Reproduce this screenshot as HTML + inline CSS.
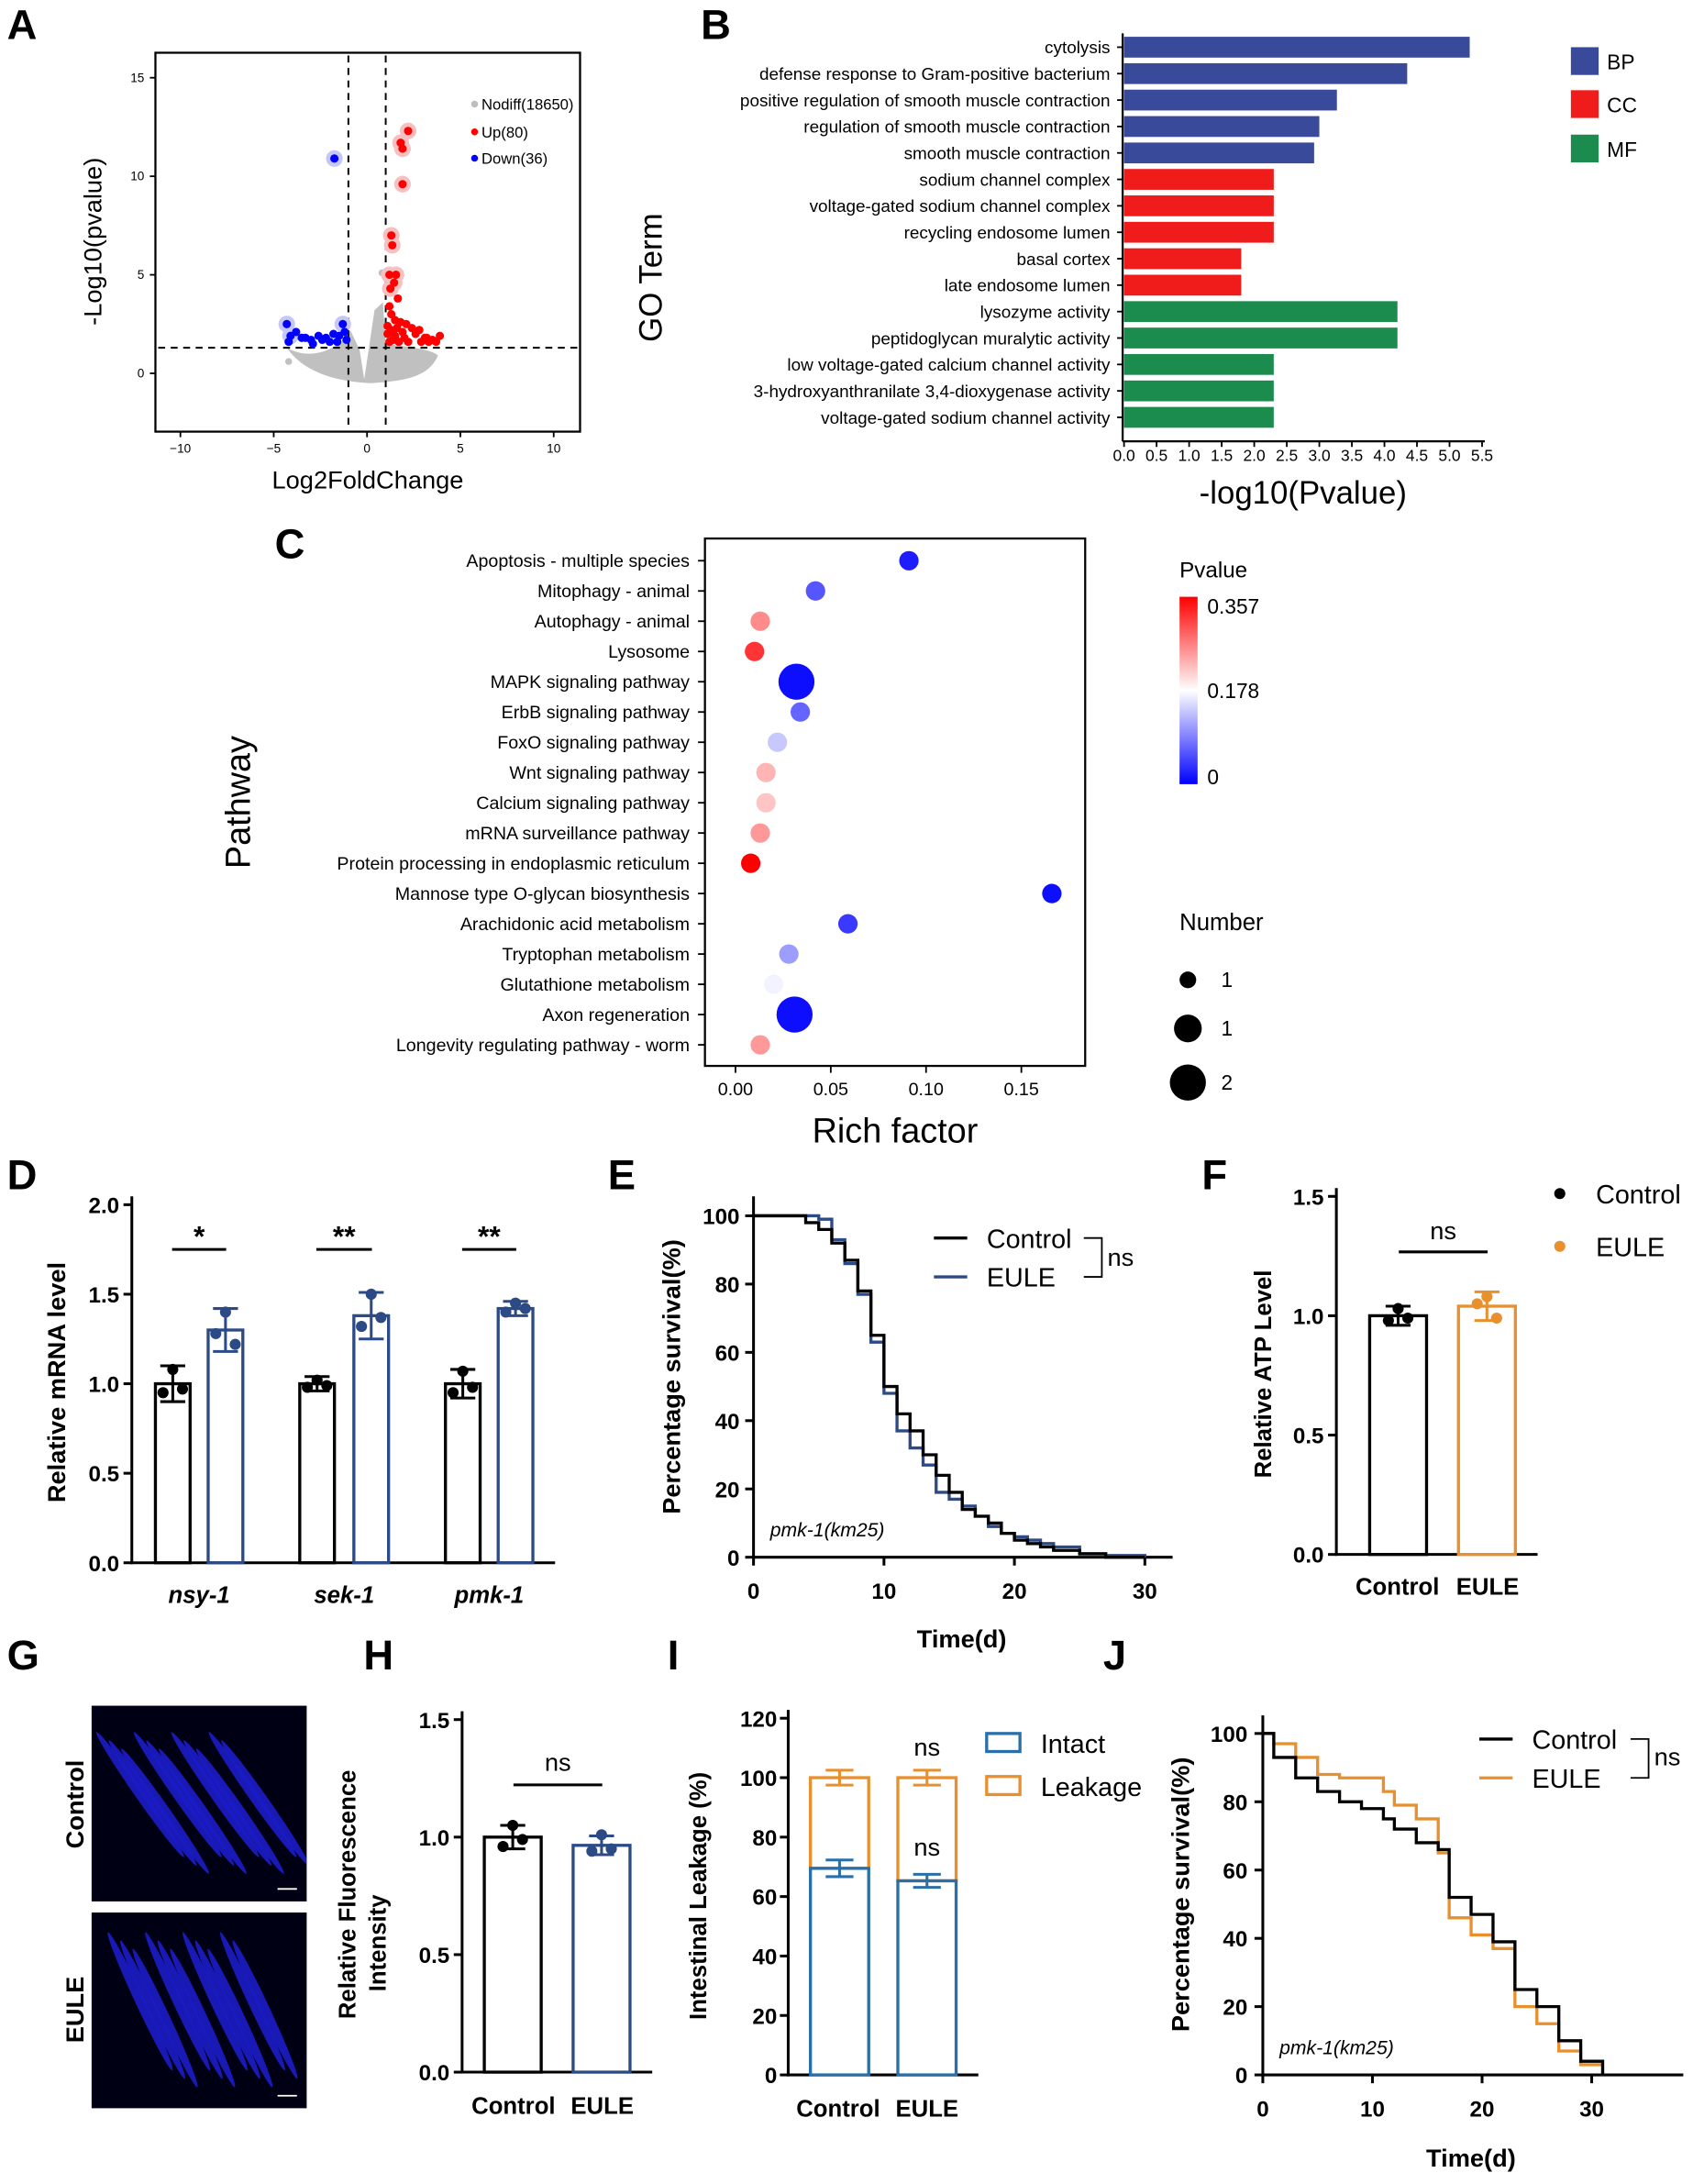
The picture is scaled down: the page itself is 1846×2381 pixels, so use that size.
<!DOCTYPE html>
<html><head><meta charset="utf-8"><style>
html,body{margin:0;padding:0;background:#fff}
svg{display:block}
text{font-family:"Liberation Sans",Arial,sans-serif;fill:#000}
</style></head><body>
<svg id="fig" xmlns="http://www.w3.org/2000/svg" width="1846" height="2381" viewBox="0 0 1220 1573.6" preserveAspectRatio="none">
<g id="root"></g>
</svg>
<script>
// ===== Data =====
const upX=[2.2,1.8,1.9,1.9,1.3,1.35,1.2,1.55,1.45,1.25,1.65,1.2,1.3,1.5,1.1,1.3,1.6,1.9,2.1,2.4,2.8,3.1,3.5,3.9,3.7,3.3,2.6,2.0,1.4,1.2,1.7,2.2,1.5,1.1,1.8,2.9,3.2];
const upY=[12.3,11.7,11.4,9.6,7.0,6.5,5.0,5.0,4.6,4.3,3.8,3.4,3.0,2.7,2.4,2.2,2.3,2.1,2.5,2.3,2.2,1.8,1.7,1.9,1.6,1.6,2.0,1.8,1.7,1.6,1.6,1.6,1.9,2.0,2.6,1.6,1.8];
const downX=[-1.75,-4.3,-4.1,-3.8,-3.5,-3.0,-2.6,-2.2,-1.8,-1.3,-1.2,-1.5,-1.1,-4.2,-2.9,-2.0,-1.6,-3.3,-2.4];
const downY=[10.9,2.5,1.9,2.1,1.8,1.7,1.9,1.8,2.0,2.5,2.1,1.9,1.7,1.6,1.5,1.6,1.6,1.8,1.7];
const goTerms=["cytolysis","defense response to Gram-positive bacterium","positive regulation of smooth muscle contraction","regulation of smooth muscle contraction","smooth muscle contraction","sodium channel complex","voltage-gated sodium channel complex","recycling endosome lumen","basal cortex","late endosome lumen","lysozyme activity","peptidoglycan muralytic activity","low voltage-gated calcium channel activity","3-hydroxyanthranilate 3,4-dioxygenase activity","voltage-gated sodium channel activity"];
const goVals=[5.31,4.35,3.27,3.0,2.92,2.3,2.3,2.3,1.8,1.8,4.2,4.2,2.3,2.3,2.3];
const goCat=["BP","BP","BP","BP","BP","CC","CC","CC","CC","CC","MF","MF","MF","MF","MF"];
const pathways=["Apoptosis - multiple species","Mitophagy - animal","Autophagy - animal","Lysosome","MAPK signaling pathway","ErbB signaling pathway","FoxO signaling pathway","Wnt signaling pathway","Calcium signaling pathway","mRNA surveillance pathway","Protein processing in endoplasmic reticulum","Mannose type O-glycan biosynthesis","Arachidonic acid metabolism","Tryptophan metabolism","Glutathione metabolism","Axon regeneration","Longevity regulating pathway - worm"];
const richFactor=[0.091,0.042,0.013,0.010,0.032,0.034,0.022,0.016,0.016,0.013,0.008,0.166,0.059,0.028,0.020,0.031,0.013];
const pvals=[0.02,0.06,0.26,0.32,0.01,0.07,0.14,0.23,0.22,0.25,0.357,0.01,0.04,0.11,0.17,0.01,0.25];
const counts=[1,1,1,1,2,1,1,1,1,1,1,1,1,1,1,2,1];
const genes=["nsy-1","sek-1","pmk-1"];
const dCtrl=[1.0,1.0,1.0], dCtrlErr=[0.1,0.04,0.08];
const dEule=[1.3,1.38,1.42], dEuleErr=[0.12,0.13,0.04];
const dSig=["*","**","**"];
const dCtrlPts=[[1.08,0.95,0.97],[1.02,0.98,0.99],[1.07,0.95,0.98]];
const dEulePts=[[1.40,1.28,1.22],[1.50,1.32,1.37],[1.45,1.40,1.42]];
const eTime=[0,3,4,5,6,7,8,9,10,11,12,13,14,15,16,17,18,19,20,21,22,23,25,27,30];
const eCtrl=[100,100,98,96,92,87,78,65,50,42,37,30,24,19,14,12,10,7,5,4,3,2,1,0,0];
const eEule=[100,100,100,99,93,86,77,63,48,37,32,27,19,17,15,12,9,7,6,5,4,3,1,0.5,0];
const fVals=[1.0,1.04], fErr=[0.04,0.06];
const fPts=[[1.03,0.98,0.99],[1.08,1.05,0.99]];
const hVals=[1.0,0.965], hErr=[0.05,0.04];
const hPts=[[1.05,0.96,0.99],[1.01,0.94,0.95]];
const iIntact=[69.5,65.3], iIntactErr=[2.8,2.2];
const iTotal=[100,100], iTotalErr=[2.5,2.5];
const jTime=[0,1,3,5,7,9,11,12,14,16,17,19,21,23,25,27,29,31];
const jCtrl=[100,93,87,83,80,78,75,72,68,66,52,47,39,25,20,10,4,0];
const jEule=[100,97,93,88,87,87,83,79,75,65,46,41,37,20,15,7,3,0];

// ===== helpers =====
const NS="http://www.w3.org/2000/svg";
const root=document.getElementById('root');
function el(tag,attrs,parent,txt){const e=document.createElementNS(NS,tag);for(const k in attrs)e.setAttribute(k,attrs[k]);if(txt!==undefined)e.textContent=txt;(parent||root).appendChild(e);return e;}
function T(x,y,s,size,anchor,extra,name){const e=el('text',Object.assign({x:x,y:y,'font-size':size,'text-anchor':anchor||'start'},extra||{}),root,s);

return e;}
function L(x1,y1,x2,y2,w,extra){return el('line',Object.assign({x1,y1,x2,y2,stroke:'#000','stroke-width':w||1.5},extra||{}));}
function lin(d0,d1,p0,p1){return v=>p0+(v-d0)*(p1-p0)/(d1-d0);}

[["A",5,28],["B",505,28],["C",198,402],["D",5,857],["E",438,857],["F",866,857],["G",5,1203],["H",262,1203],["I",481,1203],["J",795,1203]].forEach(p=>{T(p[1],p[2],p[0],30,'start',{'font-weight':'bold'},'panel-label-'+p[0].toLowerCase());});

// ===== A =====
(function(){
const x=lin(-10,10,130,399), y=lin(0,15,269,56);
const frame=el('rect',{x:112,y:38,width:306,height:273,fill:'none',stroke:'#000','stroke-width':1.5});

const cl=el('path',{d:`M${x(-4.3)},${y(1.3)} C ${x(-3)},${y(0.6)} ${x(-1.5)},${y(1.2)} ${x(-0.9)},${y(2.2)} L${x(-0.4)},${y(1.2)} L${x(-0.15)},${y(-0.3)} L${x(0.4)},${y(3.2)} L${x(0.85)},${y(3.6)} L${x(1)},${y(1.5)} C ${x(2.5)},${y(1.3)} ${x(3.5)},${y(1.2)} ${x(3.8)},${y(0.9)} C ${x(3.3)},${y(-0.2)} ${x(2)},${y(-0.4)} ${x(0.2)},${y(-0.5)} C ${x(-2)},${y(-0.4)} ${x(-3.5)},${y(0.2)} ${x(-4.3)},${y(1.3)} Z`,fill:'#c0c0c0'});

el('circle',{cx:x(-4.2),cy:y(0.6),r:2.5,fill:'#c0c0c0'});
el('circle',{cx:x(0.8),cy:y(5.1),r:2.5,fill:'#c0c0c0'});
L(x(-1),40,x(-1),309,1.3,{'stroke-dasharray':'5,4'});
L(x(1),40,x(1),309,1.3,{'stroke-dasharray':'5,4'});
L(114,y(1.3),416,y(1.3),1.3,{'stroke-dasharray':'5,4'});
upX.forEach((v,i)=>{if(upY[i]>4.2)el('circle',{cx:x(v),cy:y(upY[i]),r:6,fill:'#f7c0c0'});});
upX.forEach((v,i)=>{const c=el('circle',{cx:x(v),cy:y(upY[i]),r:3,fill:'#ff0000'});
});
downX.forEach((v,i)=>{if(i<3||i==9)el('circle',{cx:x(v),cy:y(downY[i]),r:6,fill:'#c6c6f7'});});
downX.forEach((v,i)=>{const c=el('circle',{cx:x(v),cy:y(downY[i]),r:3,fill:'#0000ff'});
});
[-10,-5,0,5,10].forEach(v=>{L(x(v),311,x(v),315,1.2);T(x(v),326,String(v).replace('-','−'),9,'middle',{},'x-tick-label');});
[0,5,10,15].forEach(v=>{L(108,y(v),112,y(v),1.2);T(104,y(v)+3,String(v),9,'end',{},'y-tick-label');});
T(265,352,"Log2FoldChange",18,'middle',{},'x-axis-title');
T(73,174,"-Log10(pvalue)",18,'middle',{transform:'rotate(-90 73 174)'},'y-axis-title');
[["Nodiff(18650)",'#bdbdbd',79],["Up(80)",'#ff0000',99],["Down(36)",'#0000ff',118]].forEach(l=>{el('circle',{cx:342,cy:l[2]-4,r:2.5,fill:l[1]});T(347,l[2],l[0],11,'start',{},'legend-entry');});
})();

// ===== B =====
(function(){
const x=lin(0,5.5,810,1068);const col={BP:'#3a4a9a',CC:'#f01b1b',MF:'#1c8c4e'};
goTerms.forEach((t,i)=>{const cy=34+i*19.05;
const r=el('rect',{x:x(0),y:cy-7.5,width:x(goVals[i])-x(0),height:15,fill:col[goCat[i]]});

L(805,cy,809,cy,1.2);T(800,cy+4.5,t,12.5,'end',{},'go-term-label');});
L(809,24,809,318,1.5);L(809,318,1070,318,1.5);
for(let v=0;v<=5.5;v+=0.5){L(x(v),318,x(v),322,1.2);T(x(v),332,v.toFixed(1),11.5,'middle',{},'x-tick-label');}
T(939,363,"-log10(Pvalue)",23,'middle',{},'x-axis-title');
T(477,200,"GO Term",23,'middle',{transform:'rotate(-90 477 200)'},'y-axis-title');
[["BP",44],["CC",75],["MF",107]].forEach(l=>{el('rect',{x:1132,y:l[1]-10,width:20,height:20,fill:col[l[0]]});T(1158,l[1]+6,l[0],15,'start',{},'legend-entry');});
})();

// ===== C =====
(function(){
const x=lin(0,0.15,530,736);
function pcol(p){const t=p/0.357;let r,g,b;if(t<0.5){const u=t/0.5;r=Math.round(255*u);g=Math.round(255*u);b=255;}else{const u=(t-0.5)/0.5;r=255;g=Math.round(255*(1-u));b=Math.round(255*(1-u));}return `rgb(${r},${g},${b})`;}
el('rect',{x:508,y:388,width:274,height:380,fill:'none',stroke:'#000','stroke-width':1.5});
pathways.forEach((p,i)=>{const cy=404+i*21.8;L(503,cy,508,cy,1.2);T(497,cy+4.5,p,13,'end',{},'pathway-label');
const c=el('circle',{cx:x(richFactor[i]),cy:cy,r:counts[i]>1?13:7,fill:pcol(pvals[i])});
});
[0,0.05,0.1,0.15].forEach(v=>{L(x(v),768,x(v),773,1.2);T(x(v),789,v.toFixed(2),13,'middle',{},'x-tick-label');});
T(645,823,"Rich factor",25,'middle',{},'x-axis-title');
T(180,578,"Pathway",25,'middle',{transform:'rotate(-90 180 578)'},'y-axis-title');
T(850,416,"Pvalue",16,'start',{},'colorbar-title');
const d=el('defs',{});const g=el('linearGradient',{id:'pg',x1:0,y1:0,x2:0,y2:1},d);
el('stop',{offset:'0','stop-color':'#ff0000'},g);el('stop',{offset:'0.5','stop-color':'#ffffff'},g);el('stop',{offset:'1','stop-color':'#0000ff'},g);
const cb=el('rect',{x:850,y:430,width:13,height:135,fill:'url(#pg)'});
T(870,442,"0.357",15,'start',{},'colorbar-tick');T(870,503,"0.178",15,'start',{},'colorbar-tick');T(870,565,"0",15,'start',{},'colorbar-tick');
T(850,670,"Number",17,'start',{},'size-legend-title');
[[706,6,"1"],[741,10,"1"],[780,13,"2"]].forEach(s=>{el('circle',{cx:856,cy:s[0],r:s[1],fill:'#000'});T(880,s[0]+5,s[2],15,'start',{},'size-legend-label');});
})();

function barPanel(y,ax,bars,errs,pts,colors){
 bars.forEach((b,i)=>{const y0=y(0),yt=y(b.v);
  const r=el('rect',{x:b.x,y:yt,width:b.w,height:y0-yt,fill:'none',stroke:colors[i],'stroke-width':2.2});
  
  const cx=b.x+b.w/2;L(cx,y(b.v+errs[i]),cx,y(b.v-errs[i]),2,{stroke:colors[i]});
  L(cx-9,y(b.v+errs[i]),cx+9,y(b.v+errs[i]),2,{stroke:colors[i]});L(cx-9,y(b.v-errs[i]),cx+9,y(b.v-errs[i]),2,{stroke:colors[i]});
  const offs=[0,-7,7];pts[i].forEach((p,j)=>{el('circle',{cx:cx+offs[j],cy:y(p),r:4,fill:colors[i]});});
 });
}

// ===== D =====
(function(){
const y=lin(0,2,1126,868);
L(95,862,95,1127,2);L(94,1126,400,1126,2);
[0,0.5,1,1.5,2].forEach(v=>{L(89,y(v),95,y(v),2);T(86,y(v)+6,v.toFixed(1),16,'end',{'font-weight':'bold'},'y-tick-label');});
const cx0=[112,216,321],cx1=[150,255,359];
genes.forEach((g,i)=>{
 barPanel(y,null,[{x:cx0[i],w:25,v:dCtrl[i]},{x:cx1[i],w:25,v:dEule[i]}],[dCtrlErr[i],dEuleErr[i]],[dCtrlPts[i],dEulePts[i]],['#000','#2c4a85']);
 T((cx0[i]+cx1[i]+25)/2,1155,g,17,'middle',{'font-weight':'bold','font-style':'italic'},'x-tick-label');
 L(cx0[i]+12,y(1.75),cx1[i]+13,y(1.75),2);T((cx0[i]+cx1[i]+25)/2,y(1.77),dSig[i],21,'middle',{'font-weight':'bold'},'significance-mark');
});
T(47,996,"Relative mRNA level",18,'middle',{'font-weight':'bold',transform:'rotate(-90 47 996)'},'y-axis-title');
})();

function stepPath(t,v,x,y){let d=`M${x(t[0])},${y(v[0])}`;for(let i=1;i<t.length;i++){d+=` H${x(t[i])} V${y(v[i])}`;}return d;}

// ===== E =====
(function(){
const x=lin(0,30,543,825),y=lin(0,100,1122,876);
L(543,862,543,1123,2);L(542,1122,845,1122,2);
[0,20,40,60,80,100].forEach(v=>{L(537,y(v),543,y(v),2);T(533,y(v)+6,String(v),16,'end',{'font-weight':'bold'},'y-tick-label');});
[0,10,20,30].forEach(v=>{L(x(v),1122,x(v),1128,2);T(x(v),1152,String(v),16,'middle',{'font-weight':'bold'},'x-tick-label');});
const p1=el('path',{d:stepPath(eTime,eEule,x,y),fill:'none',stroke:'#2c4a85','stroke-width':2.2});
const p0=el('path',{d:stepPath(eTime,eCtrl,x,y),fill:'none',stroke:'#000','stroke-width':2.2});
T(693,1187,"Time(d)",18,'middle',{'font-weight':'bold'},'x-axis-title');
T(490,992,"Percentage survival(%)",18,'middle',{'font-weight':'bold',transform:'rotate(-90 490 992)'},'y-axis-title');
T(555,1107,"pmk-1(km25)",14,'start',{'font-style':'italic'},'strain-label');
L(673,892,697,892,2.2);T(711,899,"Control",19,'start',{},'legend-entry');
L(673,920,697,920,2.2,{stroke:'#2c4a85'});T(711,927,"EULE",19,'start',{},'legend-entry');
el('path',{d:'M781,892 H794 V920 H781',fill:'none',stroke:'#000','stroke-width':1.2});T(798,912,"ns",18,'start',{},'significance-mark');
})();

// ===== F =====
(function(){
const y=lin(0,1.5,1120,862);
L(963,856,963,1121,2);L(962,1120,1108,1120,2);
[0,0.5,1,1.5].forEach(v=>{L(957,y(v),963,y(v),2);T(954,y(v)+6,v.toFixed(1),16,'end',{'font-weight':'bold'},'y-tick-label');});
barPanel(y,null,[{x:987,w:41,v:fVals[0]},{x:1051,w:41,v:fVals[1]}],fErr,fPts,['#000','#e8902e']);
T(1007,1149,"Control",17,'middle',{'font-weight':'bold'},'x-tick-label');T(1072,1149,"EULE",17,'middle',{'font-weight':'bold'},'x-tick-label');
L(1008,902,1072,902,2);T(1040,893,"ns",18,'middle',{},'significance-mark');
T(916,990,"Relative ATP Level",17,'middle',{'font-weight':'bold',transform:'rotate(-90 916 990)'},'y-axis-title');
el('circle',{cx:1124,cy:860,r:4,fill:'#000'});T(1150,867,"Control",19,'start',{},'legend-entry');
el('circle',{cx:1124,cy:898,r:4,fill:'#e8902e'});T(1150,905,"EULE",19,'start',{},'legend-entry');
})();

// ===== G images =====
(function(){
[[66,1229,"Control",1300],[66,1378,"EULE",1448]].forEach((im,k)=>{
 const r=el('rect',{x:im[0],y:im[1],width:155,height:141,fill:'#000014'});
 const cp=el('clipPath',{id:'cp'+k});el('rect',{x:im[0],y:im[1],width:155,height:141},cp);
 const g=el('g',{'clip-path':`url(#cp${k})`});
 for(let i=0;i<11;i++){const cx=im[0]+35+i*9, cy=im[1]+70+(i%3-1)*6;
  el('ellipse',{cx:cx,cy:cy,rx:3.5,ry:55,fill:'#1c1cc8',opacity:0.9,transform:`rotate(${-35+k*10} ${cx} ${cy})`},g);}
 L(im[0]+134,im[1]+132,im[0]+148,im[1]+132,1.2,{stroke:'#fff'});
 T(60,im[3],im[2],18,'middle',{'font-weight':'bold',transform:`rotate(-90 60 ${im[3]})`},'image-row-label');
});
})();

// ===== H =====
(function(){
const y=lin(0,1.5,1493,1239);
L(333,1233,333,1494,2);L(332,1493,470,1493,2);
[0,0.5,1,1.5].forEach(v=>{L(327,y(v),333,y(v),2);T(324,y(v)+6,v.toFixed(1),16,'end',{'font-weight':'bold'},'y-tick-label');});
barPanel(y,null,[{x:349,w:41,v:hVals[0]},{x:413,w:41,v:hVals[1]}],hErr,hPts,['#000','#2c4a85']);
T(370,1523,"Control",17,'middle',{'font-weight':'bold'},'x-tick-label');T(434,1523,"EULE",17,'middle',{'font-weight':'bold'},'x-tick-label');
L(370,1286,434,1286,2);T(402,1276,"ns",18,'middle',{},'significance-mark');
T(256,1365,"Relative Fluorescence",17,'middle',{'font-weight':'bold',transform:'rotate(-90 256 1365)'},'y-axis-title');
T(278,1400,"Intensity",17,'middle',{'font-weight':'bold',transform:'rotate(-90 278 1400)'},'y-axis-title');
})();

// ===== I =====
(function(){
const y=lin(0,120,1495,1238);
L(568,1232,568,1496,2);L(567,1495,705,1495,2);
[0,20,40,60,80,100,120].forEach(v=>{L(562,y(v),568,y(v),2);T(560,y(v)+6,String(v),16,'end',{'font-weight':'bold'},'y-tick-label');});
const xs=[584,647];
xs.forEach((bx,i)=>{
 const r1=el('rect',{x:bx,y:y(iTotal[i]),width:42,height:y(iIntact[i])-y(iTotal[i]),fill:'none',stroke:'#e8902e','stroke-width':2.2});
 const r2=el('rect',{x:bx,y:y(iIntact[i]),width:42,height:y(0)-y(iIntact[i]),fill:'none',stroke:'#2a6fa8','stroke-width':2.2});
 const cx=bx+21;
 [[iTotal[i],iTotalErr[i],'#e8902e'],[iIntact[i],iIntactErr[i],'#2a6fa8']].forEach(e=>{L(cx,y(e[0]+e[1]),cx,y(e[0]-e[1]),2,{stroke:e[2]});L(cx-10,y(e[0]+e[1]),cx+10,y(e[0]+e[1]),2,{stroke:e[2]});L(cx-10,y(e[0]-e[1]),cx+10,y(e[0]-e[1]),2,{stroke:e[2]});});
});
T(604,1525,"Control",17,'middle',{'font-weight':'bold'},'x-tick-label');T(668,1525,"EULE",17,'middle',{'font-weight':'bold'},'x-tick-label');
T(668,1265,"ns",18,'middle',{},'significance-mark');T(668,1337,"ns",18,'middle',{},'significance-mark');
T(509,1366,"Intestinal Leakage (%)",17,'middle',{'font-weight':'bold',transform:'rotate(-90 509 1366)'},'y-axis-title');
el('rect',{x:711,y:1249,width:24,height:13,fill:'none',stroke:'#2a6fa8','stroke-width':2.2});T(750,1263,"Intact",19,'start',{},'legend-entry');
el('rect',{x:711,y:1280,width:24,height:13,fill:'none',stroke:'#e8902e','stroke-width':2.2});T(750,1294,"Leakage",19,'start',{},'legend-entry');
})();

// ===== J =====
(function(){
const x=lin(0,30,910,1147),y=lin(0,100,1495,1249);
L(910,1236,910,1496,2);L(909,1495,1213,1495,2);
[0,20,40,60,80,100].forEach(v=>{L(904,y(v),910,y(v),2);T(899,y(v)+6,String(v),16,'end',{'font-weight':'bold'},'y-tick-label');});
[0,10,20,30].forEach(v=>{L(x(v),1495,x(v),1501,2);T(x(v),1525,String(v),16,'middle',{'font-weight':'bold'},'x-tick-label');});
const p1=el('path',{d:stepPath(jTime,jEule,x,y),fill:'none',stroke:'#e8902e','stroke-width':2.2});
const p0=el('path',{d:stepPath(jTime,jCtrl,x,y),fill:'none',stroke:'#000','stroke-width':2.2});
T(1060,1561,"Time(d)",18,'middle',{'font-weight':'bold'},'x-axis-title');
T(857,1365,"Percentage survival(%)",18,'middle',{'font-weight':'bold',transform:'rotate(-90 857 1365)'},'y-axis-title');
T(922,1480,"pmk-1(km25)",14,'start',{'font-style':'italic'},'strain-label');
L(1066,1253,1090,1253,2.2);T(1104,1260,"Control",19,'start',{},'legend-entry');
L(1066,1281,1090,1281,2.2,{stroke:'#e8902e'});T(1104,1288,"EULE",19,'start',{},'legend-entry');
el('path',{d:'M1175,1253 H1188 V1281 H1175',fill:'none',stroke:'#000','stroke-width':1.2});T(1192,1272,"ns",18,'start',{},'significance-mark');
})();
</script>
</body></html>
